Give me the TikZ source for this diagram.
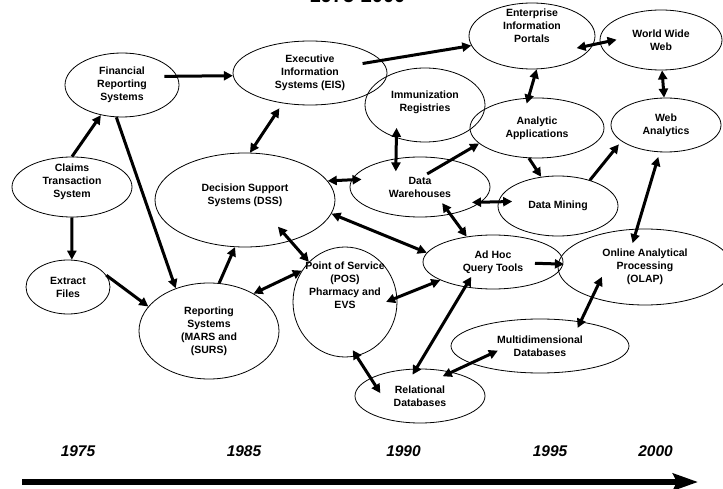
\documentclass[tikz,border=0pt]{standalone}
\usepackage{fontspec}
\setmainfont{Liberation Sans}
\usetikzlibrary{arrows.meta,shapes.geometric}

\tikzset{
	blob/.style={draw, ellipse, line width=0.8pt, inner sep=0pt, align=center, font=\bfseries\fontsize{10.5}{13}\selectfont},
	lbl/.style={align=center, font=\bfseries\fontsize{10.5}{13}\selectfont},
	link/.style={line width=3pt, -{Triangle[length=9pt,width=9pt]}},
	dlink/.style={line width=3pt, {Triangle[length=9pt,width=9pt]}-{Triangle[length=9pt,width=9pt]}},
	year/.style={anchor=base, font=\bfseries\itshape\fontsize{15.5}{18}\selectfont}
}

\begin{document}
\begin{tikzpicture}[x=1pt, y=-1pt]
				\useasboundingbox (0,0) rectangle (723,489);
				
				\node[anchor=base, font=\bfseries\fontsize{20}{24}\selectfont] (title) at (357.5,2.5) {1975-2000};
				
				\node[blob, minimum width=114pt, minimum height=64pt] (fin) at (122,85) {Financial\\Reporting\\Systems};
				\node[blob, minimum width=154pt, minimum height=64pt] (eis) at (310,73) {Executive\\Information\\Systems (EIS)};
				\node[blob, minimum width=120pt, minimum height=60pt, label={[lbl, yshift=5pt]center:{Claims\\Transaction\\System}}] (claims) at (72,187) {};
				\node[blob, minimum width=180pt, minimum height=94pt, label={[lbl, yshift=5pt]center:{Decision Support\\Systems (DSS)}}] (dss) at (245,200) {};
				\node[blob, minimum width=84pt, minimum height=54pt] (extract) at (68,287) {Extract\\Files};
				\node[blob, minimum width=140pt, minimum height=96pt] (rep) at (209,331) {Reporting\\Systems\\(MARS and\\(SURS)};
				\node[blob, minimum width=104pt, minimum height=110pt, label={[lbl, yshift=17pt]center:{Point of Service\\(POS)\\Pharmacy and\\EVS}}] (pos) at (345,302) {};
				
				\node[blob, minimum width=126pt, minimum height=66pt, label={[lbl, yshift=10pt]center:{Enterprise\\Information\\Portals}}] (eip) at (532,36) {};
				\node[blob, minimum width=122pt, minimum height=60pt] (www) at (661,40) {World Wide\\Web};
				\node[blob, minimum width=120pt, minimum height=74pt, label={[lbl, yshift=3pt]center:{Immunization\\Registries}}] (imm) at (425,105) {};
				\node[blob, minimum width=134pt, minimum height=60pt] (ana) at (537,128) {Analytic\\Applications};
				\node[blob, minimum width=110pt, minimum height=54pt] (wa) at (666,125) {Web\\Analytics};
				\node[blob, minimum width=140pt, minimum height=60pt] (dw) at (420,187) {Data\\Warehouses};
				\node[blob, minimum width=120pt, minimum height=60pt] (dm) at (558,206) {Data Mining};
				\node[blob, minimum width=140pt, minimum height=54pt] (adhoc) at (493,262) {Ad Hoc\\Query Tools};
				\node[blob, minimum width=174pt, minimum height=76pt] (olap) at (645,267) {Online Analytical\\Processing\\(OLAP)};
				\node[blob, minimum width=178pt, minimum height=54pt] (multi) at (540,346) {Multidimensional\\Databases};
				\node[blob, minimum width=130pt, minimum height=54pt] (rel) at (420,396) {Relational\\Databases};
				
				\draw[link, shorten <=-13pt] (fin.9) -- (eis.182);
				\draw[link] (claims.90) -- (fin.235);
				\draw[link] (claims.270) -- (extract.82);
				\draw[link] (fin.260) -- (rep.128);
				\draw[link] (extract.17) -- (rep.158);
				\draw[link] (rep.78) -- (dss.258);
				\draw[dlink, shorten >=6pt] (dss.84) -- (eis.228);
				\draw[dlink, shorten >=-10pt] (dss.13) -- (dw.174);
				\draw[dlink, shorten <=-19pt] (dss.318) -- (pos.132);
				\draw[dlink] (dss.351) -- (adhoc.172);
				\draw[dlink] (rep.40) -- (pos.144);
				\draw[dlink, shorten <=-12pt] (pos.5) -- (adhoc.199);
				\draw[dlink, shorten <=-7pt, shorten >=-18pt] (pos.282) -- (rel.160);
				
				\draw[link, shorten <=-19pt] (eis.10) -- (eip.189);
				\draw[dlink, shorten <=-17pt, shorten >=-17pt] (eip.352) -- (www.183);
				\draw[dlink, shorten >=-6pt] (eip.278) -- (ana.106);
				\draw[dlink] (www.272) -- (wa.94);
				\draw[dlink, shorten <=-10pt, shorten >=-13pt] (imm.229) -- (dw.130);
				\draw[link, shorten <=-28pt] (dw.41) -- (ana.195);
				\draw[link] (ana.255) -- (dm.120);
				\draw[dlink, shorten <=-9pt, shorten >=-14pt] (dw.346) -- (dm.176);
				\draw[link, shorten >=4pt] (dm.39) -- (wa.200);
				\draw[dlink, shorten <=-14pt] (dw.318) -- (adhoc.136);
				\draw[link, shorten <=42pt, shorten >=-6pt] (adhoc.center) -- (olap.178);
				\draw[dlink, shorten <=-15pt, shorten >=5pt] (olap.102) -- (wa.257);
				\draw[dlink, shorten <=-12pt, shorten >=-7pt] (adhoc.222) -- (rel.98);
				\draw[dlink, shorten <=-7pt, shorten >=-23pt] (multi.31) -- (olap.210);
				\draw[dlink, shorten <=-10pt, shorten >=-30pt] (rel.37) -- (multi.194);
				
				\node[year] (y1975) at (78,456) {1975};
				\node[year] (y1985) at (244,456) {1985};
				\node[year] (y1990) at (403.5,456) {1990};
				\node[year] (y1995) at (550,456) {1995};
				\node[year] (y2000) at (655.5,456) {2000};
				
				\coordinate (t0) at (22,482);
				\coordinate (t1) at (698,482);
				\draw[line width=5.5pt, -{Stealth[length=25pt,width=17pt,inset=4pt]}] (t0) -- (t1);
			\end{tikzpicture}
\end{document}
